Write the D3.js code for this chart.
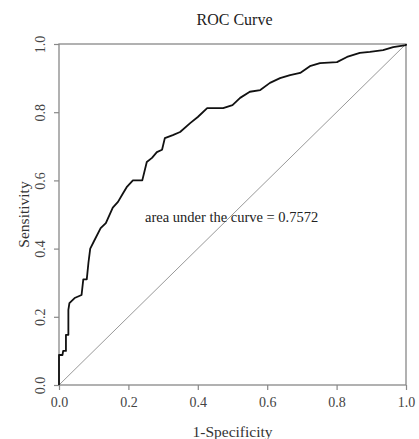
<!DOCTYPE html>
<html>
<head>
<meta charset="utf-8">
<script src="https://cdn.jsdelivr.net/npm/d3@7"></script>
<style>
  body { margin: 0; background: #fff; }
  svg text { font-family: "Liberation Serif", "DejaVu Serif", serif; }
</style>
</head>
<body>
<div id="chart"></div>
<script>
const fpr = [0, 0, 0.01, 0.012, 0.02, 0.02, 0.027, 0.027, 0.03, 0.045, 0.065, 0.07, 0.08, 0.085, 0.09, 0.1,
    0.12, 0.135, 0.155, 0.17, 0.185, 0.195, 0.213, 0.24, 0.253, 0.268, 0.282, 0.297, 0.305, 0.328, 0.349,
    0.378, 0.4, 0.427, 0.473, 0.5, 0.522, 0.55, 0.58, 0.608, 0.637, 0.666, 0.695, 0.723, 0.752, 0.801,
    0.83, 0.867, 0.896, 0.934, 0.963, 1, 1];
const tpr = [0, 0.088, 0.088, 0.1, 0.1, 0.147, 0.147, 0.22, 0.24, 0.255, 0.264, 0.31, 0.31, 0.36, 0.4, 0.42,
    0.46, 0.475, 0.52, 0.537, 0.563, 0.58, 0.6, 0.6, 0.654, 0.666, 0.683, 0.69, 0.724, 0.733, 0.742,
    0.768, 0.786, 0.812, 0.812, 0.821, 0.842, 0.86, 0.865, 0.886, 0.9, 0.909, 0.915, 0.935, 0.944, 0.947,
    0.962, 0.974, 0.977, 0.982, 0.991, 0.997, 1];
const tickValues = [0, 0.2, 0.4, 0.6, 0.8, 1.0];
const tickLabels = ['0.0', '0.2', '0.4', '0.6', '0.8', '1.0'];
const aucText = 'area under the curve = 0.7572';

const width = 419, height = 439;
const margin = {top: 44, right: 13, bottom: 54, left: 59};
const innerW = width - margin.left - margin.right;
const innerH = height - margin.top - margin.bottom;

const svg = d3.select('#chart').append('svg')
    .attr('width', width)
    .attr('height', height);

const g = svg.append('g')
    .attr('transform', `translate(${margin.left},${margin.top})`);

const x = d3.scaleLinear().domain([0, 1]).range([0, innerW]);
const y = d3.scaleLinear().domain([0, 1]).range([innerH, 0]);

// diagonal reference line
g.append('line')
    .attr('x1', x(0)).attr('y1', y(0))
    .attr('x2', x(1)).attr('y2', y(1))
    .attr('stroke', '#999')
    .attr('stroke-width', 1);

// frame
g.append('rect')
    .attr('x', 0).attr('y', 0)
    .attr('width', innerW).attr('height', innerH)
    .attr('fill', 'none')
    .attr('stroke', '#888')
    .attr('stroke-width', 1.3);

const xAxis = g.append('g')
    .attr('transform', `translate(0,${innerH})`)
    .call(d3.axisBottom(x).tickValues(tickValues).tickSize(5).tickPadding(7)
        .tickFormat((d, i) => tickLabels[i]));
xAxis.select('.domain').remove();
xAxis.selectAll('line').attr('stroke', '#888').attr('stroke-width', 1.2);
xAxis.selectAll('text').style('font-size', '14px').attr('fill', '#444');

const yAxis = g.append('g')
    .call(d3.axisLeft(y).tickValues(tickValues).tickSize(5).tickFormat((d, i) => tickLabels[i]));
yAxis.select('.domain').remove();
yAxis.selectAll('line').attr('stroke', '#888').attr('stroke-width', 1.2);
yAxis.selectAll('text')
    .style('font-size', '14px')
    .attr('fill', '#444')
    .attr('x', 0)
    .attr('y', 0)
    .attr('dy', '0.35em')
    .attr('text-anchor', 'middle')
    .attr('transform', 'translate(-19,0) rotate(-90)');

// ROC curve
const rocData = fpr.map((f, i) => ({f: f, t: tpr[i]}));
g.append('path')
    .datum(rocData)
    .attr('fill', 'none')
    .attr('stroke', '#111')
    .attr('stroke-width', 1.8)
    .attr('stroke-linejoin', 'round')
    .attr('d', d3.line().x(d => x(d.f)).y(d => y(d.t)));

g.append('text')
    .attr('x', 145 - margin.left)
    .attr('y', 222 - margin.top)
    .attr('text-anchor', 'start')
    .style('font-size', '14.5px')
    .attr('fill', '#222')
    .text(aucText);

svg.append('text')
    .attr('x', margin.left + innerW / 2 + 2)
    .attr('y', 25)
    .attr('text-anchor', 'middle')
    .style('font-size', '16px')
    .attr('fill', '#222')
    .text('ROC Curve');

svg.append('text')
    .attr('x', margin.left + innerW / 2)
    .attr('y', 437)
    .attr('text-anchor', 'middle')
    .style('font-size', '15.5px')
    .attr('fill', '#333')
    .text('1-Specificity');

svg.append('text')
    .attr('transform', `translate(29,${margin.top + innerH / 2}) rotate(-90)`)
    .attr('text-anchor', 'middle')
    .style('font-size', '15.5px')
    .attr('fill', '#333')
    .text('Sensitivity');
</script>
</body>
</html>
